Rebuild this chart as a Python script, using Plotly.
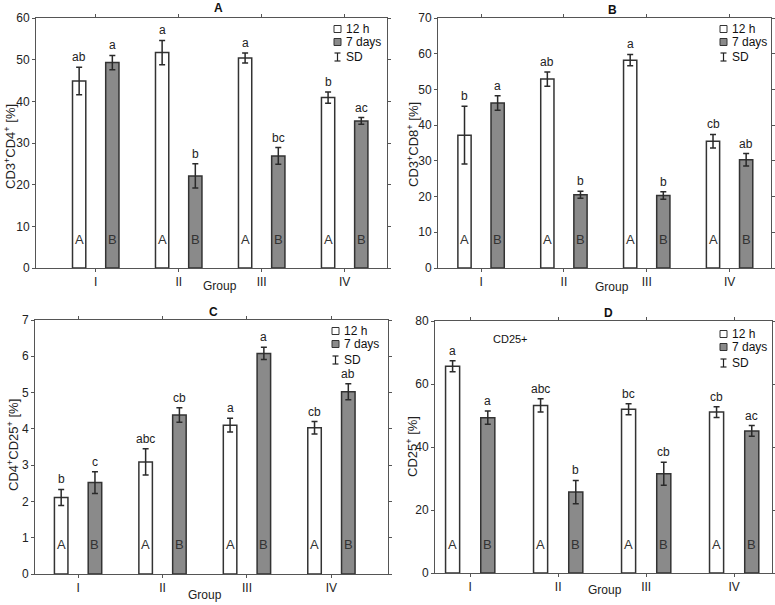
import plotly.graph_objects as go

groups = ["I", "II", "III", "IV"]
series_names = ["12 h", "7 days"]

# Panel A: CD3+CD4+
a_12h = [44.9, 51.7, 50.4, 40.9]
a_12h_sd = [3.3, 2.9, 1.2, 1.35]
a_7d = [49.3, 22.1, 26.9, 35.3]
a_7d_sd = [1.7, 2.9, 2.0, 0.8]
a_let_12h = ["ab", "a", "a", "b"]
a_let_7d = ["a", "b", "bc", "ac"]

# Panel B: CD3+CD8+
b_12h = [37.2, 52.9, 58.2, 35.5]
b_12h_sd = [8.1, 2.0, 1.6, 1.9]
b_7d = [46.2, 20.5, 20.3, 30.3]
b_7d_sd = [2.0, 1.0, 1.05, 1.75]
b_let_12h = ["b", "ab", "a", "cb"]
b_let_7d = ["a", "b", "b", "ab"]

# Panel C: CD4+CD25+
c_12h = [2.11, 3.09, 4.10, 4.03]
c_12h_sd = [0.22, 0.36, 0.19, 0.17]
c_7d = [2.52, 4.38, 6.08, 5.02]
c_7d_sd = [0.30, 0.20, 0.17, 0.22]
c_let_12h = ["b", "abc", "a", "cb"]
c_let_7d = ["c", "cb", "a", "ab"]

# Panel D: CD25+
d_12h = [65.6, 53.2, 52.0, 51.1]
d_12h_sd = [1.75, 2.1, 1.75, 1.7]
d_7d = [49.3, 25.7, 31.5, 45.1]
d_7d_sd = [2.1, 3.7, 3.65, 1.7]
d_let_12h = ["a", "abc", "bc", "cb"]
d_let_7d = ["a", "b", "cb", "ac"]

W, H = 775, 605
def px(x):
    return x / W
def py(y):
    return 1 - y / H

FONT = "Liberation Sans, Arial, sans-serif"
DARK = "#2a2a2a"
AXC = "#555555"
GRAY = "#8a8a8a"

panels = [
    dict(key="", title="A", ytitle="CD3<sup>+</sup>CD4<sup>+</sup> [%]",
         v12=a_12h, s12=a_12h_sd, v7=a_7d, s7=a_7d_sd, l12=a_let_12h, l7=a_let_7d,
         box=(36, 387, 18, 268), ymax=60, dtick=10, xr=(-0.72, 3.51),
         title_xy=(218, 8), ytitle_xy=(10, 147), group_xy=(220, 286),
         leg=(334, [29, 42, 57])),
    dict(key="2", title="B", ytitle="CD3<sup>+</sup>CD8<sup>+</sup> [%]",
         v12=b_12h, s12=b_12h_sd, v7=b_7d, s7=b_7d_sd, l12=b_let_12h, l7=b_let_7d,
         box=(438, 771, 18, 268), ymax=70, dtick=10, xr=(-0.52, 3.50),
         title_xy=(612, 10), ytitle_xy=(413, 145), group_xy=(612, 287),
         leg=(720, [29, 42, 57])),
    dict(key="3", title="C", ytitle="CD4<sup>+</sup>CD25<sup>+</sup> [%]",
         v12=c_12h, s12=c_12h_sd, v7=c_7d, s7=c_7d_sd, l12=c_let_12h, l7=c_let_7d,
         box=(35, 388, 320, 574), ymax=7, dtick=1, xr=(-0.51, 3.67),
         title_xy=(213, 312), ytitle_xy=(13, 445), group_xy=(205, 595),
         leg=(332, [331, 344, 360])),
    dict(key="4", title="D", ytitle="CD25<sup>+</sup> [%]",
         v12=d_12h, s12=d_12h_sd, v7=d_7d, s7=d_7d_sd, l12=d_let_12h, l7=d_let_7d,
         box=(435, 772, 321, 573), ymax=80, dtick=20, xr=(-0.40, 3.43),
         title_xy=(608, 313), ytitle_xy=(412, 447), group_xy=(605, 590),
         leg=(720, [334, 347, 363])),
]

fig = go.Figure()
annotations = []
shapes = []

for p in panels:
    k = p["key"]
    xa = "x" + k
    ya = "y" + k
    x0, x1, y0, y1 = p["box"]
    err = dict(type="data", thickness=1.5, width=3, color=DARK)
    fig.add_trace(go.Bar(x=groups, y=p["v12"], name=series_names[0], xaxis=xa, yaxis=ya,
                         marker=dict(color="white", line=dict(color="#333333", width=1.5)),
                         error_y=dict(array=p["s12"], **err), showlegend=False))
    fig.add_trace(go.Bar(x=groups, y=p["v7"], name=series_names[1], xaxis=xa, yaxis=ya,
                         marker=dict(color=GRAY, line=dict(color="#333333", width=1.5)),
                         error_y=dict(array=p["s7"], **err), showlegend=False))
    axis_common = dict(showline=True, linecolor=AXC, linewidth=1, mirror="ticks",
                       ticks="outside", ticklen=3, tickcolor=AXC, showgrid=False,
                       zeroline=False, automargin=False,
                       tickfont=dict(family=FONT, size=12, color="#222"))
    fig.update_layout(**{
        ("xaxis" + k): dict(domain=[px(x0), px(x1)], anchor=ya, type="category",
                            range=list(p["xr"]), **axis_common),
        ("yaxis" + k): dict(domain=[py(y1), py(y0)], anchor=xa, range=[0, p["ymax"]],
                            dtick=p["dtick"], **axis_common),
    })
    for i, g in enumerate(groups):
        for off, vals, sds, lets, inner in [(-0.2, p["v12"], p["s12"], p["l12"], "A"),
                                            (0.2, p["v7"], p["s7"], p["l7"], "B")]:
            annotations.append(dict(x=i + off, y=vals[i] + sds[i], xref=xa, yref=ya,
                                    text=lets[i], showarrow=False, yanchor="bottom", yshift=1,
                                    font=dict(family=FONT, size=12, color="#222")))
            annotations.append(dict(x=i + off, y=0.115, xref=xa, yref=ya + " domain",
                                    text=inner, showarrow=False, yanchor="middle",
                                    font=dict(family=FONT, size=13, color="#333")))
    tx, ty = p["title_xy"]
    annotations.append(dict(x=px(tx), y=py(ty), xref="paper", yref="paper", text="<b>%s</b>" % p["title"],
                            showarrow=False, xanchor="center", yanchor="middle",
                            font=dict(family=FONT, size=12, color="#111")))
    yx, yy = p["ytitle_xy"]
    annotations.append(dict(x=px(yx), y=py(yy), xref="paper", yref="paper", text=p["ytitle"],
                            showarrow=False, textangle=-90, xanchor="center", yanchor="middle",
                            font=dict(family=FONT, size=13, color="#222")))
    gx, gy = p["group_xy"]
    annotations.append(dict(x=px(gx), y=py(gy), xref="paper", yref="paper", text="Group",
                            showarrow=False, xanchor="center", yanchor="middle",
                            font=dict(family=FONT, size=12, color="#222")))
    lx, rows = p["leg"]
    for r, fill in zip(rows[:2], ["white", GRAY]):
        shapes.append(dict(type="rect", xref="paper", yref="paper",
                           x0=px(lx), x1=px(lx + 7), y0=py(r + 3.5), y1=py(r - 3.5),
                           fillcolor=fill, line=dict(color="#333", width=1)))
    sdr = rows[2]
    cx = lx + 3.5
    shapes.append(dict(type="line", xref="paper", yref="paper", x0=px(cx), x1=px(cx),
                       y0=py(sdr + 4), y1=py(sdr - 4), line=dict(color="#222", width=1.2)))
    for yy_ in (sdr - 4, sdr + 4):
        shapes.append(dict(type="line", xref="paper", yref="paper", x0=px(cx - 3), x1=px(cx + 3),
                           y0=py(yy_), y1=py(yy_), line=dict(color="#222", width=1.2)))
    for r, t in zip(rows, ["12 h", "7 days", "SD"]):
        annotations.append(dict(x=px(lx + 10), y=py(r), xref="paper", yref="paper", text=t,
                                showarrow=False, xanchor="left", yanchor="middle",
                                font=dict(family=FONT, size=12, color="#111")))

annotations.append(dict(x=(510 - 435) / (772 - 435), y=0.93, xref="x4 domain", yref="y4 domain",
                        text="CD25+", showarrow=False, xanchor="center", yanchor="middle",
                        font=dict(family=FONT, size=11, color="#111")))

fig.update_layout(width=W, height=H, margin=dict(l=0, r=0, t=0, b=0, autoexpand=False),
                  barmode="group", bargap=0.2, bargroupgap=0.6,
                  plot_bgcolor="white", paper_bgcolor="white",
                  annotations=annotations, shapes=shapes, showlegend=False,
                  font=dict(family=FONT))

post = (
    "document.documentElement.style.margin='0';"
    "document.documentElement.style.overflow='hidden';"
    "document.body.style.margin='0';"
    "document.body.style.overflow='hidden';"
    "var g=document.querySelector('.plotly-graph-div');"
    "g.style.position='fixed';g.style.left='0px';g.style.top='0px';"
)
fig.write_html("out.html", config={"displayModeBar": False}, post_script=post)
